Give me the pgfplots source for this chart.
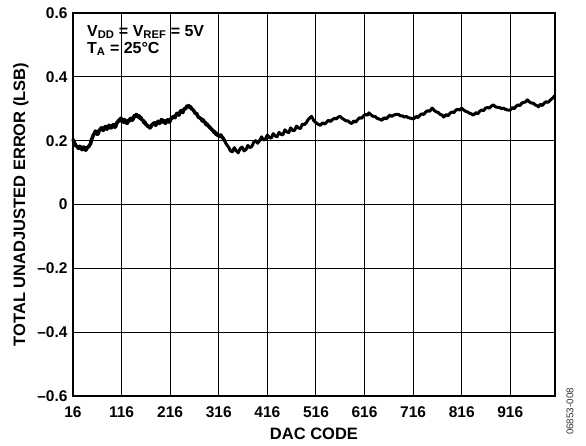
\documentclass[border=0pt]{standalone}
\usepackage{pgfplots}
\pgfplotsset{compat=1.18}
\usepackage{fontspec}
\setmainfont{Liberation Sans}
\begin{document}
\begin{tikzpicture}
\useasboundingbox (-73pt,-49pt) rectangle (513pt,396pt);
\begin{axis}[
  at={(0,0)}, anchor=south west,
  scale only axis, width=482pt, height=383pt,
  xmin=16, xmax=1008, ymin=-0.6, ymax=0.6,
  xtick={16,116,216,316,416,516,616,716,816,916},
  xticklabels={16,116,216,316,416,516,616,716,816,916},
  ytick={-0.6,-0.4,-0.2,0,0.2,0.4,0.6},
  yticklabels={–0.6,–0.4,–0.2,0,0.2,0.4,0.6},
  major tick length=0pt,
  grid=major,
  major grid style={black, line width=1pt},
  axis line style={black, line width=1.5pt},
  xticklabel style={font=\fontsize{15.5}{15.5}\selectfont\bfseries, yshift=-7pt},
  yticklabel style={font=\fontsize{15.5}{15.5}\selectfont\bfseries, xshift=-2pt},
  xlabel={DAC CODE},
  ylabel={TOTAL UNADJUSTED ERROR (LSB)},
  xlabel style={font=\fontsize{16.5}{16.5}\selectfont\bfseries, yshift=-4pt},
  ylabel style={font=\fontsize{16.5}{16.5}\selectfont\bfseries, yshift=2pt},
  clip=false,
]
\addplot[black, line width=3.6pt, line join=round] coordinates {
(16,0.205)(18,0.196)(20,0.19)(22,0.184)(24,0.182)(26,0.178)(28,0.176)(30,0.182)(32,0.18)(34,0.172)(36,0.172)(38,0.18)(40,0.178)(42,0.17)(44,0.174)(46,0.18)(48,0.18)(50,0.186)(52,0.19)(54,0.202)(56,0.21)(58,0.218)(60,0.222)(62,0.23)(64,0.228)(66,0.22)(68,0.222)(70,0.232)(72,0.235)(74,0.24)(76,0.24)(78,0.232)(80,0.236)(82,0.244)(84,0.244)(86,0.236)(88,0.24)(90,0.248)(92,0.246)(94,0.24)(96,0.242)(98,0.25)(100,0.25)(102,0.242)(104,0.245)(106,0.256)(108,0.258)(110,0.264)(112,0.262)(114,0.27)(116,0.268)(118,0.26)(120,0.258)(122,0.266)(124,0.262)(126,0.254)(128,0.255)(130,0.264)(132,0.262)(134,0.27)(136,0.27)(138,0.264)(140,0.268)(142,0.278)(144,0.276)(146,0.282)(148,0.28)(150,0.274)(152,0.278)(154,0.27)(156,0.272)(158,0.264)(160,0.265)(162,0.256)(164,0.258)(166,0.25)(168,0.25)(170,0.244)(172,0.245)(174,0.24)(176,0.242)(178,0.25)(180,0.25)(182,0.256)(184,0.255)(186,0.248)(188,0.252)(190,0.26)(192,0.26)(194,0.254)(196,0.258)(198,0.266)(200,0.264)(202,0.258)(204,0.262)(206,0.254)(208,0.258)(210,0.266)(212,0.265)(214,0.258)(216,0.262)(218,0.27)(220,0.27)(222,0.276)(224,0.275)(226,0.272)(228,0.28)(230,0.286)(232,0.285)(234,0.28)(236,0.288)(238,0.294)(240,0.292)(242,0.288)(244,0.298)(246,0.3)(248,0.3)(250,0.308)(252,0.306)(254,0.31)(256,0.304)(258,0.306)(260,0.3)(262,0.298)(264,0.295)(266,0.29)(268,0.285)(270,0.286)(272,0.28)(274,0.274)(276,0.272)(278,0.27)(280,0.268)(282,0.262)(284,0.265)(286,0.258)(288,0.258)(290,0.25)(292,0.252)(294,0.246)(296,0.245)(298,0.24)(300,0.238)(302,0.234)(304,0.232)(306,0.226)(308,0.228)(310,0.22)(312,0.222)(314,0.216)(316,0.218)(318,0.214)(320,0.218)(322,0.212)(324,0.21)(326,0.204)(328,0.2)
};
\addplot[black, line width=3pt, line join=round] coordinates {
(328,0.2)(332,0.188)(336,0.18)(340,0.168)(344,0.165)(348,0.178)(352,0.168)(356,0.162)(360,0.175)(364,0.18)(368,0.168)(372,0.172)(376,0.185)(380,0.178)(384,0.182)(388,0.195)(392,0.2)(396,0.192)(400,0.2)(404,0.212)(408,0.202)(412,0.205)(416,0.218)(420,0.21)(424,0.208)(428,0.222)(432,0.215)(436,0.212)(440,0.226)(444,0.22)(448,0.218)(452,0.234)(456,0.228)(460,0.225)(464,0.24)(468,0.232)(472,0.232)(476,0.246)(480,0.24)(484,0.238)(488,0.252)(492,0.25)(496,0.256)(500,0.266)(504,0.272)(507,0.276)(512,0.262)(516,0.256)(520,0.252)(525,0.248)(530,0.256)(534,0.252)(538,0.258)(542,0.264)(546,0.26)(550,0.266)(554,0.27)(558,0.268)(562,0.274)(566,0.276)(570,0.27)(574,0.266)(578,0.262)(582,0.262)(586,0.256)(590,0.254)(594,0.262)(598,0.258)(602,0.266)(606,0.272)(610,0.27)(614,0.278)(618,0.282)(622,0.28)(625,0.287)(630,0.28)(634,0.276)(638,0.276)(642,0.27)(646,0.268)(652,0.264)(656,0.272)(660,0.268)(664,0.274)(668,0.28)(672,0.276)(676,0.28)(680,0.282)(686,0.282)(690,0.278)(694,0.278)(698,0.274)(702,0.276)(706,0.272)(712,0.27)(717,0.268)(722,0.276)(726,0.272)(730,0.28)(734,0.284)(738,0.282)(742,0.29)(746,0.294)(750,0.292)(755,0.302)(760,0.294)(764,0.29)(768,0.288)(772,0.282)(776,0.28)(779,0.274)(784,0.282)(788,0.278)(792,0.286)(796,0.29)(800,0.288)(804,0.296)(808,0.298)(812,0.296)(816,0.302)(820,0.296)(824,0.292)(828,0.29)(832,0.286)(836,0.284)(840,0.28)(845,0.288)(849,0.284)(853,0.292)(857,0.296)(861,0.294)(865,0.302)(869,0.304)(873,0.302)(877,0.308)(881,0.312)(886,0.306)(890,0.304)(894,0.304)(898,0.3)(902,0.302)(906,0.298)(911,0.296)(916,0.296)(920,0.304)(924,0.3)(928,0.308)(932,0.312)(936,0.31)(940,0.318)(944,0.32)(948,0.322)(951,0.328)(955,0.322)(959,0.318)(963,0.318)(967,0.312)(971,0.31)(974,0.306)(978,0.314)(982,0.31)(986,0.318)(990,0.322)(994,0.32)(998,0.326)(1002,0.332)(1005,0.336)(1008,0.342)
};
\node[anchor=north west, align=left, inner sep=0pt, font=\fontsize{16}{17}\selectfont\bfseries] at ([xshift=14pt,yshift=-12pt]rel axis cs:0,1)
  {V\textsubscript{DD} = V\textsubscript{REF} = 5V\\T\textsubscript{A} = 25°C};
\end{axis}
\node[rotate=90, font=\fontsize{9.8}{10}\selectfont, text=black!80] at (497pt,-15.5pt) {06853-008};
\end{tikzpicture}
\end{document}
